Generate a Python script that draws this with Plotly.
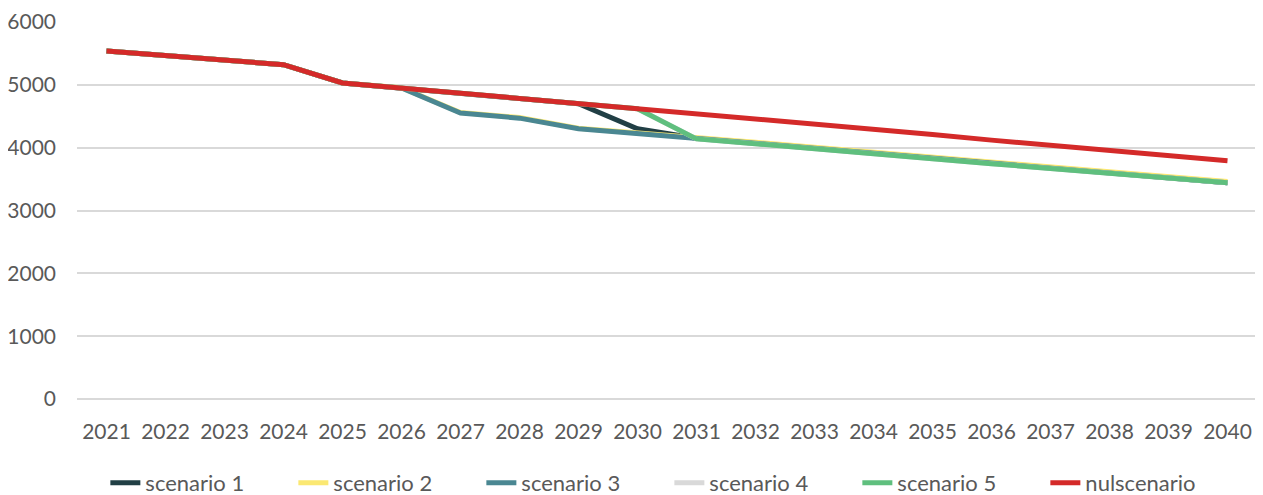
import plotly.graph_objects as go

years = [str(y) for y in range(2021, 2041)]

nulscenario = [5540, 5470, 5400, 5320, 5030, 4950, 4860, 4780, 4700, 4620,
               4540, 4460, 4370, 4290, 4210, 4120, 4040, 3960, 3870, 3790]
scenario_3 = [5540, 5470, 5400, 5320, 5030, 4950, 4550, 4470, 4300, 4230,
              4150, 4070, 3990, 3910, 3830, 3750, 3670, 3590, 3520, 3440]
scenario_2 = [5540, 5470, 5400, 5320, 5030, 4955, 4560, 4480, 4310, 4240,
              4165, 4085, 4005, 3925, 3845, 3765, 3685, 3605, 3535, 3460]
scenario_1 = [5540, 5470, 5400, 5320, 5030, 4950, 4860, 4780, 4700, 4300,
              4150, 4070, 3990, 3910, 3830, 3750, 3670, 3590, 3520, 3440]
scenario_5 = [5540, 5470, 5400, 5320, 5030, 4950, 4860, 4780, 4700, 4620,
              4140, 4065, 3985, 3905, 3825, 3745, 3665, 3585, 3515, 3440]
scenario_4 = [5540, 5470, 5400, 5320, 5030, 4950, 4860, 4780, 4700, 4620,
              4140, 4065, 3985, 3905, 3825, 3745, 3665, 3585, 3515, 3440]

series = [
    ("scenario 1", scenario_1, "#213F45"),
    ("scenario 2", scenario_2, "#FBE872"),
    ("scenario 3", scenario_3, "#4A8792"),
    ("scenario 4", scenario_4, "#D9D9D9"),
    ("scenario 5", scenario_5, "#5FBF7E"),
    ("nulscenario", nulscenario, "#D42A29"),
]

fig = go.Figure()
for name, vals, color in series:
    fig.add_trace(go.Scatter(
        x=years, y=vals, name=name, mode="lines",
        line=dict(color=color, width=5, shape="linear"),
    ))

font = dict(family="Lato, 'Open Sans', sans-serif", size=21, color="#595959")
legend_font = dict(family="Lato, 'Open Sans', sans-serif", size=22, color="#595959")

fig.update_layout(
    width=1255, height=487,
    margin=dict(l=69, r=6, t=14, b=96, autoexpand=False),
    paper_bgcolor="white", plot_bgcolor="white",
    font=font,
    showlegend=True,
    legend=dict(
        orientation="h", x=0.502, xanchor="center", y=-0.223, yanchor="middle",
        font=legend_font, entrywidth=143, entrywidthmode="pixels",
        itemwidth=30,
    ),
    xaxis=dict(
        type="category", range=[-0.5, 19.5], showgrid=False, zeroline=False,
        showline=False, ticks="", ticklabelstandoff=18, tickfont=font,
    ),
    yaxis=dict(
        range=[0, 6000], tickvals=[0, 1000, 2000, 3000, 4000, 5000, 6000],
        showgrid=True, gridcolor="#D9D9D9", gridwidth=1.5,
        zeroline=True, zerolinecolor="#D9D9D9", zerolinewidth=1.5,
        showline=False, ticks="", ticklabelstandoff=20, tickfont=font,
    ),
)

fig.write_html("out.html")
